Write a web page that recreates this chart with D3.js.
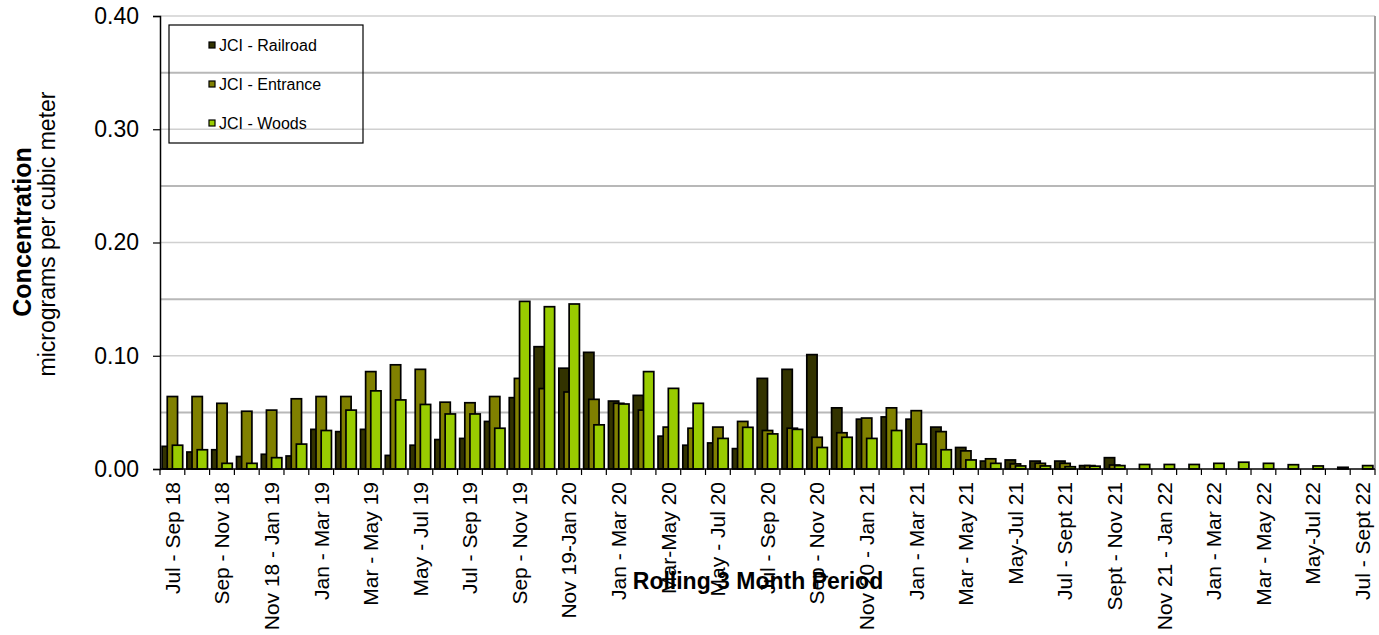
<!DOCTYPE html>
<html><head><meta charset="utf-8">
<script src="https://cdn.jsdelivr.net/npm/d3@7"></script>
<style>body{margin:0;background:#fff;} text{font-family:"Liberation Sans",Arial,sans-serif;fill:#000;}</style>
</head><body><svg id="c" width="1379" height="635"></svg>
<script>
const categories = ["Jul - Sep 18","Aug - Oct 18","Sep - Nov 18","Oct - Dec 18","Nov 18 - Jan 19","Dec 18 - Feb 19",
"Jan - Mar 19","Feb - Apr 19","Mar - May 19","Apr - Jun 19","May - Jul 19","Jun - Aug 19","Jul - Sep 19","Aug - Oct 19",
"Sep - Nov 19","Oct - Dec 19","Nov 19-Jan 20","Dec 19-Feb 20","Jan - Mar 20","Feb - Apr 20","Mar-May 20","Apr-Jun 20",
"May - Jul 20","Jun - Aug 20","Jul - Sep 20","Aug - Oct 20","Sep - Nov 20","Oct - Dec 20","Nov 20 - Jan 21","Dec 20 - Feb 21",
"Jan - Mar 21","Feb - Apr 21","Mar - May 21","Apr - Jun 21","May-Jul 21","Jun-Aug 21","Jul - Sept 21","Aug - Oct 21",
"Sept - Nov 21","Oct - Dec 21","Nov 21 - Jan 22","Dec 21 - Feb 22","Jan - Mar 22","Feb - Apr 22","Mar - May 22","Apr - Jun 22",
"May-Jul 22","Jun - Aug 22","Jul - Sept 22"];
const railroad = [0.020,0.015,0.017,0.011,0.013,0.0115,0.035,0.033,0.035,0.012,0.021,0.026,0.027,0.042,0.063,0.108,0.089,0.103,0.060,0.065,
0.029,0.021,0.023,0.018,0.080,0.088,0.101,0.054,0.044,0.046,0.044,0.037,0.019,0.007,0.008,0.007,0.007,0.003,0.010,
0,0,0,0,0,0,0,0,0,0];
const entrance = [0.064,0.064,0.058,0.051,0.052,0.062,0.064,0.064,0.086,0.092,0.088,0.059,0.0585,0.064,0.080,0.071,0.068,0.0615,0.058,0.052,
0.037,0.036,0.037,0.042,0.034,0.036,0.028,0.032,0.045,0.054,0.0515,0.033,0.016,0.009,0.0045,0.005,0.005,0.003,0.0035,
0,0,0,0,0,0,0,0,0,0];
const woods = [0.021,0.017,0.005,0.005,0.010,0.022,0.034,0.052,0.069,0.061,0.057,0.0486,0.0486,0.036,0.148,0.1433,0.1457,0.039,0.0574,0.086,
0.0712,0.058,0.027,0.0368,0.031,0.035,0.019,0.028,0.027,0.034,0.022,0.017,0.008,0.005,0.0027,0.0027,0.002,0.0025,0.003,
0.004,0.004,0.004,0.005,0.006,0.005,0.0038,0.0027,0.0015,0.003];
const seriesNames = ["JCI - Railroad","JCI - Entrance","JCI - Woods"];
const seriesColors = ["#333300","#808000","#99cc00"];
const yTickValues = [0, 0.1, 0.2, 0.3, 0.4];
const gridValues = [0.05, 0.10, 0.15, 0.20, 0.25, 0.30, 0.35, 0.40];
const xLabelCats = categories.filter((c, i) => i % 2 === 0);

const svg = d3.select("#c");
const L = 160, R = 1375, T = 16, B = 469;
const x = d3.scaleBand().domain(categories).range([L, R]).padding(0);
const y = d3.scaleLinear().domain([0, 0.4]).range([B, T]);
const series = [railroad, entrance, woods];

// gridlines
svg.append("g").selectAll("line").data(gridValues).join("line")
  .attr("x1", L).attr("x2", R).attr("y1", d => y(d)).attr("y2", d => y(d))
  .attr("stroke", (d, i) => i % 2 === 0 ? "#b8b8b8" : "#d0d0d0")
  .attr("stroke-width", (d, i) => i % 2 === 0 ? 2 : 1.5);
// right border
svg.append("line").attr("x1", R).attr("x2", R).attr("y1", T).attr("y2", B)
  .attr("stroke", "#a0a0a0").attr("stroke-width", 2);

// bars
const bw = x.bandwidth();
const w = bw * 0.415;
const gap = (bw - 2 * w) / 2;
series.forEach((vals, si) => {
  svg.append("g").selectAll("rect").data(categories.map((c, i) => ({c, v: vals[i]})).filter(d => d.v > 0))
    .join("rect")
    .attr("x", d => x(d.c) + gap + si * w / 2)
    .attr("width", w)
    .attr("y", d => y(d.v))
    .attr("height", d => B - y(d.v))
    .attr("fill", seriesColors[si])
    .attr("stroke", "#000").attr("stroke-width", 1.7);
});

// x axis
svg.append("line").attr("x1", L).attr("x2", R).attr("y1", B).attr("y2", B).attr("stroke", "#000").attr("stroke-width", 1.5);
const bounds = categories.map(c => x(c)).concat([R]);
svg.append("g").selectAll("line").data(bounds).join("line")
  .attr("x1", d => d).attr("x2", d => d).attr("y1", B).attr("y2", B + 6)
  .attr("stroke", "#000").attr("stroke-width", 1.2);
const xAxis = svg.append("g").attr("transform", `translate(0,${B})`)
  .call(d3.axisBottom(x).tickValues(xLabelCats).tickSize(0).tickPadding(0));
xAxis.select(".domain").remove();
xAxis.selectAll("text")
  .attr("transform", "rotate(-90)")
  .attr("x", -13).attr("y", 0).attr("dy", "0.35em")
  .style("text-anchor", "end").style("font-size", "21px")
  .style("font-family", '"Liberation Sans",Arial,sans-serif').attr("fill", "#000");

// y axis
const yAxis = svg.append("g").attr("transform", `translate(${L},0)`)
  .call(d3.axisLeft(y).tickValues(yTickValues).tickFormat(d3.format(".2f")).tickSize(7).tickPadding(14));
yAxis.select(".domain").attr("stroke", "#000").attr("stroke-width", 1.5);
yAxis.selectAll(".tick line").attr("stroke", "#000").attr("stroke-width", 1.2);
yAxis.selectAll("text").style("font-size", "23px")
  .style("font-family", '"Liberation Sans",Arial,sans-serif').attr("fill", "#000");

// titles
svg.append("text").attr("transform", "translate(31,232) rotate(-90)")
  .attr("text-anchor", "middle").style("font-size", "25px").style("font-weight", "bold").text("Concentration");
svg.append("text").attr("transform", "translate(55,234) rotate(-90)")
  .attr("text-anchor", "middle").style("font-size", "23px").text("micrograms per cubic meter");
svg.append("text").attr("x", 758).attr("y", 589)
  .attr("text-anchor", "middle").style("font-size", "23px").style("font-weight", "bold").text("Rolling 3 Month Period");

// legend
const lg = svg.append("g");
lg.append("rect").attr("x", 169).attr("y", 25).attr("width", 194).attr("height", 118)
  .attr("fill", "none").attr("stroke", "#000").attr("stroke-width", 1.2);
seriesNames.forEach((n, i) => {
  const by = 51 + i * 39;
  lg.append("rect").attr("x", 209).attr("y", by - 9).attr("width", 6).attr("height", 6)
    .attr("fill", seriesColors[i]).attr("stroke", "#000").attr("stroke-width", 1.2);
  lg.append("text").attr("x", 219).attr("y", by).style("font-size", "16px").text(n);
});
</script></body></html>
